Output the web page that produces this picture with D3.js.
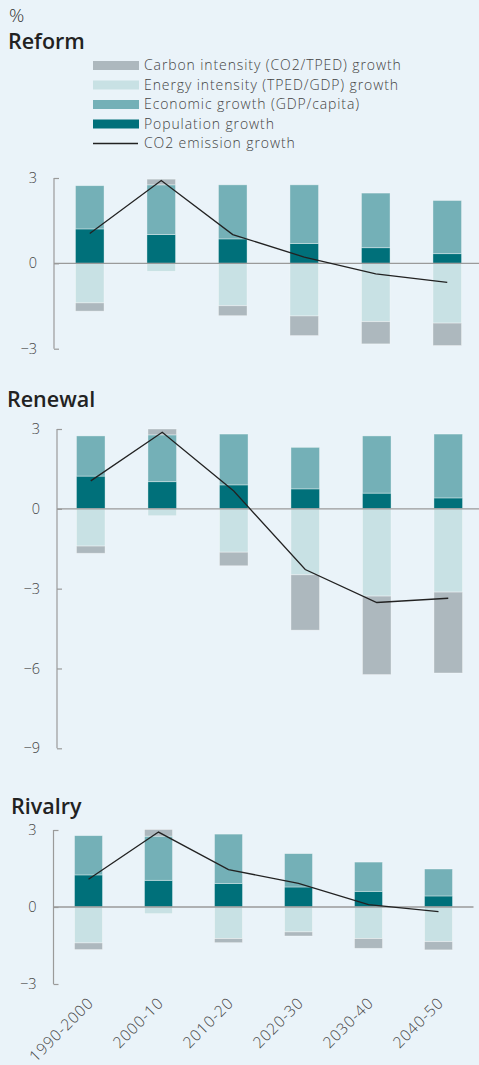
<!DOCTYPE html>
<html>
<head>
<meta charset="utf-8">
<script src="https://cdn.jsdelivr.net/npm/d3@7"></script>
<style>
  html, body { margin: 0; padding: 0; background: #eaf3f9; }
  svg { display: block; font-family: "Open Sans", "Noto Sans", sans-serif; }
</style>
</head>
<body>
<svg id="chart" width="479" height="1065"></svg>
<script>
// ---- Data ----
const periods = ["1990-2000", "2000-10", "2010-20", "2020-30", "2030-40", "2040-50"];
const seriesNames = ["Carbon intensity (CO2/TPED) growth", "Energy intensity (TPED/GDP) growth", "Economic growth (GDP/capita)", "Population growth", "CO2 emission growth"];

// Reform
const reformPopulation = [1.21, 1.01, 0.86, 0.70, 0.55, 0.34];
const reformEconomic   = [1.52, 1.75, 1.90, 2.06, 1.92, 1.87];
const reformEnergy     = [-1.39, -0.28, -1.49, -1.85, -2.05, -2.10];
const reformCarbon     = [-0.29, 0.20, -0.35, -0.69, -0.78, -0.79];
const reformCO2        = [1.05, 2.91, 1.01, 0.22, -0.37, -0.67];

// Renewal
const renewalPopulation = [1.23, 1.02, 0.90, 0.75, 0.59, 0.41];
const renewalEconomic   = [1.51, 1.76, 1.91, 1.56, 2.15, 2.40];
const renewalEnergy     = [-1.40, -0.26, -1.63, -2.48, -3.28, -3.13];
const renewalCarbon     = [-0.27, 0.22, -0.51, -2.08, -2.95, -3.04];
const renewalCO2        = [1.05, 2.88, 0.67, -2.28, -3.52, -3.36];

// Rivalry
const rivalryPopulation = [1.25, 1.04, 0.92, 0.78, 0.61, 0.43];
const rivalryEconomic   = [1.53, 1.72, 1.92, 1.30, 1.14, 1.05];
const rivalryEnergy     = [-1.40, -0.26, -1.23, -0.97, -1.23, -1.35];
const rivalryCarbon     = [-0.26, 0.26, -0.16, -0.16, -0.38, -0.32];
const rivalryCO2        = [1.08, 2.92, 1.46, 0.92, 0.09, -0.18];

const yTicksSmall = [3, 0, -3];
const yTicksLarge = [3, 0, -3, -6, -9];

// ---- Styles ----
const colors = {
  carbon: "#adb8be",
  energy: "#c8e1e4",
  economic: "#74b0b7",
  population: "#00707a",
  line: "#222222"
};
const axisColor = "#9a9a9a";
const textColor = "#333333";

const svg = d3.select("#chart");

// Title "%"
svg.append("text").attr("x", 9).attr("y", 22).attr("font-size", 19).attr("font-weight", 300).attr("fill", textColor).text("%");

// Legend
const legend = svg.append("g");
const legendItems = [
  { name: seriesNames[0], color: colors.carbon, type: "rect" },
  { name: seriesNames[1], color: colors.energy, type: "rect" },
  { name: seriesNames[2], color: colors.economic, type: "rect" },
  { name: seriesNames[3], color: colors.population, type: "rect" },
  { name: seriesNames[4], color: colors.line, type: "line" }
];
legendItems.forEach((it, i) => {
  const cy = 65.5 + i * 19.5;
  if (it.type === "rect") {
    legend.append("rect").attr("x", 93).attr("y", cy - 4.5).attr("width", 46).attr("height", 9).attr("fill", it.color);
  } else {
    legend.append("line").attr("x1", 93).attr("x2", 138).attr("y1", cy).attr("y2", cy).attr("stroke", it.color).attr("stroke-width", 1.3);
  }
  legend.append("text").attr("x", 144).attr("y", cy).attr("dy", "0.35em")
    .attr("font-size", 14).attr("font-weight", 300).attr("letter-spacing", 0.9).attr("fill", "#444").text(it.name);
});

function drawPanel(opts) {
  const { title, titleX, titleY, axisX, rangeX, yDomain, yRange, ticks, pop, econ, energy, carbon, co2, showX } = opts;
  const g = svg.append("g");
  g.append("text").attr("x", titleX).attr("y", titleY).attr("font-size", 21.5).attr("font-weight", 600)
    .attr("fill", "#222").text(title);

  const x = d3.scaleBand().domain(periods).range(rangeX).paddingInner(0.6).paddingOuter(0.3);
  const y = d3.scaleLinear().domain(yDomain).range(yRange);

  // y axis
  const axis = d3.axisLeft(y).tickValues(ticks).tickSize(-5).tickPadding(0).tickFormat(d3.format("d"));
  const ag = g.append("g").attr("transform", `translate(${axisX},0)`).call(axis);
  ag.select(".domain").remove();
  ag.selectAll(".tick line").attr("stroke", axisColor).attr("stroke-width", 1.2);
  ag.selectAll(".tick text").attr("x", -17).attr("font-size", 14.5).attr("font-weight", 300).attr("fill", "#444")
    .attr("font-family", "'Open Sans', sans-serif");
  g.append("line").attr("x1", axisX).attr("x2", axisX).attr("y1", y(yDomain[1])).attr("y2", y(yDomain[0]))
    .attr("stroke", axisColor).attr("stroke-width", 1.2);

  // bars
  const rows = periods.map((p, i) => ({ p, pop: pop[i], econ: econ[i], energy: energy[i], carbon: carbon[i], co2: co2[i] }));
  const segs = [];
  rows.forEach(r => {
    let posBase = 0, negBase = 0;
    [["pop", colors.population], ["econ", colors.economic], ["energy", colors.energy], ["carbon", colors.carbon]].forEach(([k, c]) => {
      const v = r[k];
      if (v >= 0) { segs.push({ p: r.p, y0: posBase, y1: posBase + v, c }); posBase += v; }
      else { segs.push({ p: r.p, y0: negBase, y1: negBase + v, c }); negBase += v; }
    });
  });
  g.append("g").selectAll("rect").data(segs).join("rect")
    .attr("x", d => x(d.p)).attr("width", x.bandwidth())
    .attr("y", d => Math.min(y(d.y0), y(d.y1)))
    .attr("height", d => Math.abs(y(d.y0) - y(d.y1)))
    .attr("fill", d => d.c)
    .attr("stroke", "rgba(255,255,255,0.45)").attr("stroke-width", 0.8);

  // zero line
  g.append("line").attr("x1", axisX).attr("x2", rangeX[1]).attr("y1", y(0)).attr("y2", y(0))
    .attr("stroke", axisColor).attr("stroke-width", 1.4);

  // CO2 line
  const line = d3.line().x(d => x(d.p) + x.bandwidth() / 2).y(d => y(d.co2));
  g.append("path").datum(rows).attr("d", line).attr("fill", "none")
    .attr("stroke", colors.line).attr("stroke-width", 1.3);

  if (showX) {
    const xa = d3.axisBottom(x).tickSize(0).tickPadding(0);
    const xg = g.append("g").attr("transform", `translate(0,1004)`).call(xa);
    xg.select(".domain").remove();
    xg.selectAll(".tick text").attr("font-size", 15.5).attr("font-weight", 300).attr("fill", "#444")
      .attr("font-family", "'Open Sans', sans-serif").attr("letter-spacing", 0.8)
      .attr("text-anchor", "end").attr("dy", 0).attr("y", 0).attr("x", 0)
      .attr("transform", "translate(6,0) rotate(-45)");
  }
}

drawPanel({ title: "Reform", titleX: 8, titleY: 49, axisX: 54, rangeX: [54, 483], yDomain: [-3, 3], yRange: [348.7, 178],
  ticks: yTicksSmall, pop: reformPopulation, econ: reformEconomic, energy: reformEnergy, carbon: reformCarbon, co2: reformCO2 });

drawPanel({ title: "Renewal", titleX: 7, titleY: 407, axisX: 57, rangeX: [55, 484], yDomain: [-9, 3], yRange: [748.3, 429],
  ticks: yTicksLarge, pop: renewalPopulation, econ: renewalEconomic, energy: renewalEnergy, carbon: renewalCarbon, co2: renewalCO2 });

drawPanel({ title: "Rivalry", titleX: 11, titleY: 814, axisX: 53.5, rangeX: [53.5, 473.5], yDomain: [-3, 3], yRange: [984, 830],
  ticks: yTicksSmall, pop: rivalryPopulation, econ: rivalryEconomic, energy: rivalryEnergy, carbon: rivalryCarbon, co2: rivalryCO2, showX: true });
</script>
</body>
</html>
